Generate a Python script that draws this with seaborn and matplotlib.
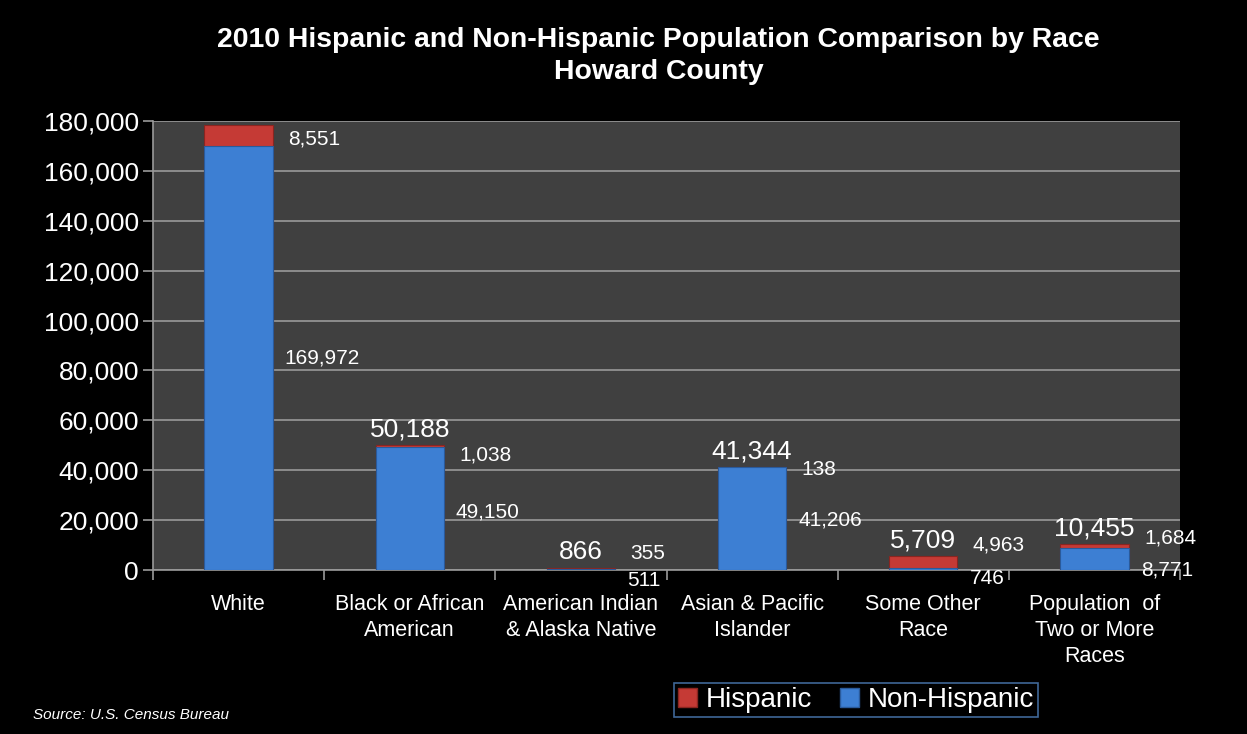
import matplotlib
matplotlib.use("Agg")
import matplotlib.pyplot as plt
import seaborn as sns
import pandas as pd
import numpy as np
from matplotlib.patches import Patch

categories = ["White", "Black or African\nAmerican", "American Indian\n& Alaska Native",
              "Asian & Pacific\nIslander", "Some Other\nRace", "Population  of\nTwo or More\nRaces"]
hispanic = [8551, 1038, 355, 138, 4963, 1684]
non_hispanic = [169972, 49150, 511, 41206, 746, 8771]
show_total = [False, True, True, True, True, True]
yticks = [0, 20000, 40000, 60000, 80000, 100000, 120000, 140000, 160000, 180000]

# layout: label offsets (data units) relative to segment centres (Excel-like placement)
hisp_label_dy = [-1500, -3500, 6100, -1000, 6800, 3200]
nonhisp_label_dy = [0, -1300, -4300, -600, -3600, -4400]

df = pd.DataFrame({"cat": categories, "hisp": hispanic, "nonhisp": non_hispanic})
df["total"] = df["hisp"] + df["nonhisp"]

plt.rcParams["font.family"] = ["Liberation Sans", "DejaVu Sans"]
fig = plt.figure(figsize=(12.47, 7.34), dpi=100, facecolor="black")
ax = fig.add_axes([153/1247, 1-570/734, (1180-153)/1247, (570-121)/734])
ax.set_facecolor("#404040")

red = "#c53a35"
blue = "#3d7fd3"
sns.barplot(data=df, x="cat", y="total", color=red, width=0.4, ax=ax,
            saturation=1, edgecolor="#8a2520", linewidth=0.8, zorder=3)
sns.barplot(data=df, x="cat", y="nonhisp", color=blue, width=0.4, ax=ax,
            saturation=1, edgecolor="#2a5a9a", linewidth=0.8, zorder=4)

ax.set_ylim(0, 180000)
ax.set_xlim(-0.5, len(categories) - 0.5)
ax.set_yticks(yticks)
ax.set_yticklabels([f"{v:,}" for v in yticks], color="white", fontsize=19)
ax.yaxis.grid(True, color="#9a9a9a", linewidth=1.2, zorder=0)
ax.set_axisbelow(True)
ax.set_xlabel("")
ax.set_ylabel("")
ax.tick_params(axis="y", colors="#9a9a9a", length=7, width=1.2, labelcolor="white", pad=3)
ax.set_xticks(range(len(categories)))
ax.set_xticklabels(categories, color="white", fontsize=15.5, linespacing=1.32)
ax.tick_params(axis="x", length=0, pad=17, labelcolor="white")
ax.set_xticks(np.arange(-0.5, len(categories), 1), minor=True)
ax.tick_params(axis="x", which="minor", length=7, width=1.2, colors="#9a9a9a")
for s in ["top", "right"]:
    ax.spines[s].set_visible(False)
for s in ["left", "bottom"]:
    ax.spines[s].set_color("#9a9a9a")
    ax.spines[s].set_linewidth(1.2)

for i in range(len(categories)):
    h = hispanic[i]
    n = non_hispanic[i]
    t = h + n
    ax.text(i + 0.29, n + h / 2 + hisp_label_dy[i], f"{h:,}", color="white",
            fontsize=15, ha="left", va="center", zorder=6, clip_on=False)
    ax.text(i + 0.27, n / 2 + nonhisp_label_dy[i], f"{n:,}", color="white",
            fontsize=15, ha="left", va="center", zorder=6, clip_on=False)
    if show_total[i]:
        ax.text(i, t + 1500, f"{t:,}", color="white", fontsize=19,
                ha="center", va="bottom", zorder=6)

fig.text(0.528, 1-56/734, "2010 Hispanic and Non-Hispanic Population Comparison by Race\nHoward County",
         color="white", fontsize=20.4, fontweight="bold", ha="center", va="center", linespacing=1.27)

fig.text(33/1247, 1-715/734, "Source: U.S. Census Bureau", color="white", fontsize=11,
         style="italic", ha="left", va="center")

handles = [Patch(facecolor=red, edgecolor="#8a2520"), Patch(facecolor=blue, edgecolor="#2a5a9a")]
leg = fig.legend(handles, ["Hispanic", "Non-Hispanic"], loc="center",
                 bbox_to_anchor=(856/1247, 1-700/734), ncol=2, frameon=True,
                 fontsize=20, handlelength=0.7, handleheight=0.7, handletextpad=0.3,
                 columnspacing=1.0, borderpad=0.15, fancybox=False, labelcolor="white")
leg.get_frame().set_facecolor("black")
leg.get_frame().set_edgecolor("#4f81bd")
leg.get_frame().set_linewidth(1.2)

fig.savefig("out.png", dpi=100, facecolor="black")
